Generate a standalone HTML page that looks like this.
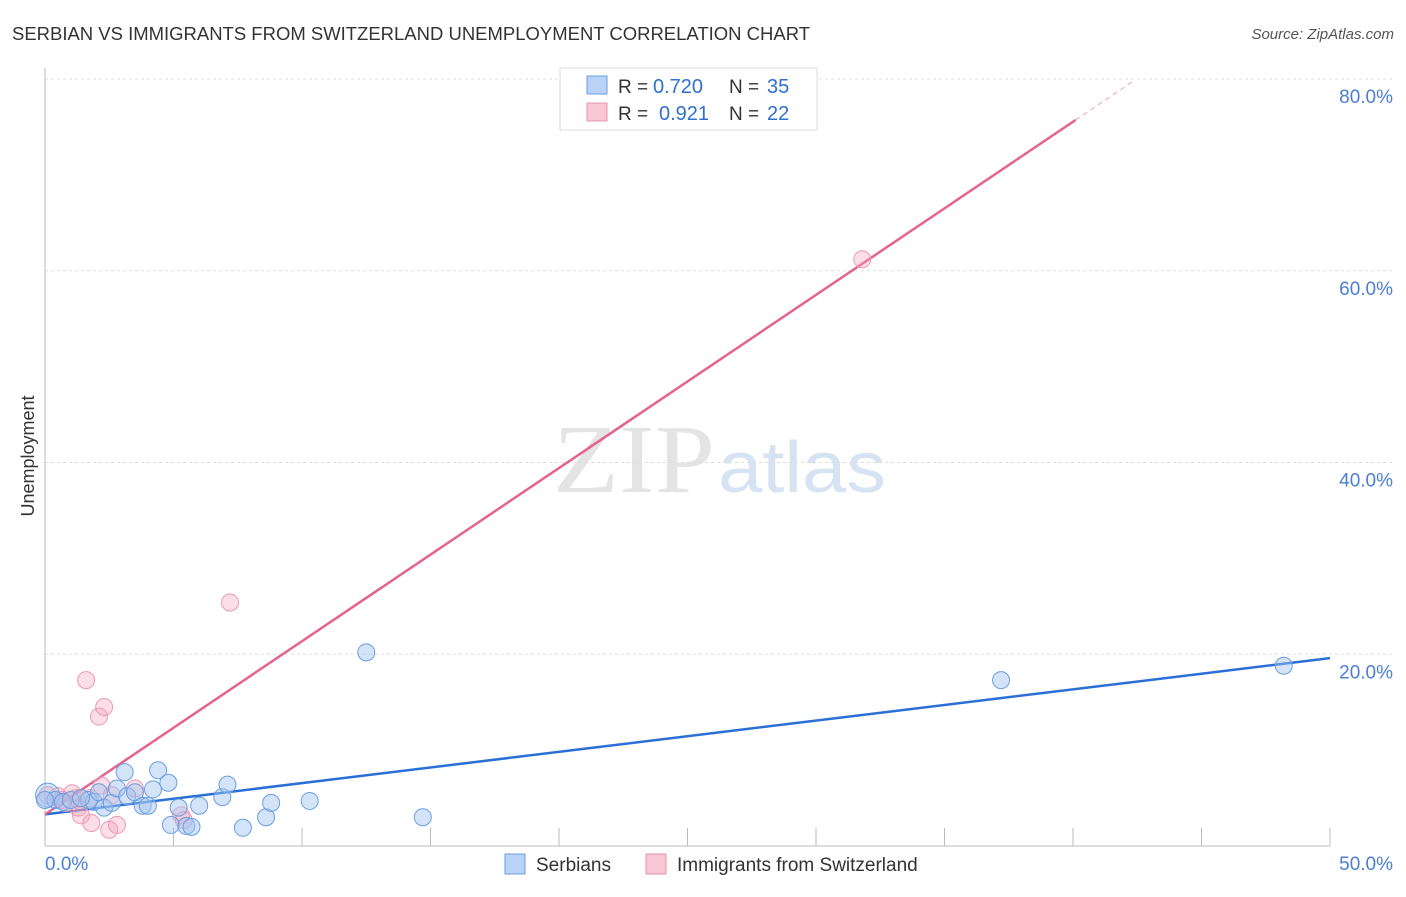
<!DOCTYPE html>
<html><head><meta charset="utf-8"><style>
body{margin:0;background:#fff;font-family:"Liberation Sans",sans-serif;}
</style></head><body>
<svg width="1406" height="892" xmlns="http://www.w3.org/2000/svg" font-family="Liberation Sans, sans-serif">
<text x="12" y="40" font-size="18" fill="#333" textLength="798" lengthAdjust="spacingAndGlyphs">SERBIAN VS IMMIGRANTS FROM SWITZERLAND UNEMPLOYMENT CORRELATION CHART</text>
<text x="1394" y="39" font-size="15" fill="#555" font-style="italic" text-anchor="end">Source: ZipAtlas.com</text>
<text x="34" y="456" font-size="18" fill="#333" text-anchor="middle" transform="rotate(-90 34 456)">Unemployment</text>
<text x="553" y="492" font-size="98" fill="#e4e4e4" font-family="Liberation Serif, serif" textLength="162" lengthAdjust="spacingAndGlyphs">ZIP</text>
<text x="718" y="492" font-size="72" fill="#d6e3f3" textLength="168" lengthAdjust="spacingAndGlyphs">atlas</text>
<g id="grid"></g><g id="axes"></g><g id="lines"></g><g id="points"></g>
<g>
<rect x="560" y="68" width="257" height="62" fill="#fff" stroke="#ddd"/>
<rect x="587" y="76" width="20" height="18" fill="#b8d3f5" stroke="#6a9ee0"/>
<text x="618" y="93" font-size="19" fill="#333">R =</text>
<text x="653" y="93" font-size="20" fill="#2f6fd0">0.720</text>
<text x="729" y="93" font-size="19" fill="#333">N =</text>
<text x="767" y="93" font-size="20" fill="#2f6fd0">35</text>
<rect x="587" y="103" width="20" height="18" fill="#f8c6d4" stroke="#e891ab"/>
<text x="618" y="120" font-size="19" fill="#333">R =</text>
<text x="659" y="120" font-size="20" fill="#2f6fd0">0.921</text>
<text x="729" y="120" font-size="19" fill="#333">N =</text>
<text x="767" y="120" font-size="20" fill="#2f6fd0">22</text>
</g>
<g>
<rect x="505" y="854" width="20" height="20" fill="#b8d3f5" stroke="#6a9ee0"/>
<text x="536" y="871" font-size="19" fill="#333">Serbians</text>
<rect x="646" y="854" width="20" height="20" fill="#f8c6d4" stroke="#e891ab"/>
<text x="677" y="871" font-size="19" fill="#333">Immigrants from Switzerland</text>
</g>
</svg>
<script>
const yTicks=[20,40,60,80];
const yTickLabels=["20.0%","40.0%","60.0%","80.0%"];
const xTicks=[0,5,10,15,20,25,30,35,40,45,50];
const serbX=[0.1,0.4,0.7,1.0,1.7,1.9,2.1,2.3,2.6,2.8,3.1,3.2,3.5,3.8,4.0,4.2,4.4,4.8,4.9,5.2,5.5,5.7,6.0,6.9,7.1,7.7,8.6,8.8,10.3,12.5,14.7,37.2,48.2,0,1.4];
const serbY=[5.3,4.8,4.6,4.8,4.8,4.6,5.6,4.0,4.5,6.0,7.7,5.2,5.6,4.2,4.2,5.9,7.9,6.6,2.2,4.0,2.1,2.0,4.2,5.1,6.4,1.9,3.0,4.5,4.7,20.2,3.0,17.3,18.8,4.8,5.0];
const swissX=[0.1,0.5,0.8,1.05,1.3,1.4,1.6,1.8,2.1,2.3,2.2,2.5,2.8,2.6,3.5,5.3,7.2,31.8,0.65,1.75,1.2,5.4];
const swissY=[5.3,5.2,4.5,5.5,4.0,3.2,17.3,2.4,13.5,14.5,6.3,1.7,2.2,5.3,6.0,3.2,25.4,61.2,4.8,5.0,5.0,2.7];
const serbLine=[3.3,19.6];
const swissIntercept=3.3, swissSlope=1.806, swissSolidEnd=40.1, swissDashEnd=42.4;
const NS="http://www.w3.org/2000/svg";
const sx=v=>45+v/50*1285, sy=v=>846-v/80*767;
function mk(tag,attrs,parent){const e=document.createElementNS(NS,tag);for(const k in attrs)e.setAttribute(k,attrs[k]);document.getElementById(parent).appendChild(e);return e;}
yTicks.forEach((t,i)=>{
 const g=mk('line',{x1:45,x2:1394,y1:sy(t),y2:sy(t),stroke:'#ddd','stroke-dasharray':'3,3'},'grid');
 
 
 const l=mk('text',{x:1393,y:sy(t)+24,'font-size':19,fill:'#4a7fd4','text-anchor':'end'},'axes');
 l.textContent=yTickLabels[i];
 
 
});
const ax=mk('line',{x1:45,x2:45,y1:68,y2:846,stroke:'#bbb'},'axes');


const bx=mk('line',{x1:45,x2:1330,y1:846,y2:846,stroke:'#bbb'},'axes');


xTicks.forEach(t=>{
 const k=mk('line',{x1:sx(t),x2:sx(t),y1:828,y2:846,stroke:'#bbb'},'axes');
 
 
});
const x0=mk('text',{x:45,y:870,'font-size':19,fill:'#4a7fd4'},'axes');x0.textContent='0.0%';


const x1=mk('text',{x:1393,y:870,'font-size':19,fill:'#4a7fd4','text-anchor':'end'},'axes');x1.textContent='50.0%';


swissX.forEach((v,i)=>{
 const c=mk('circle',{cx:sx(v),cy:sy(swissY[i]),r:8.5,fill:'rgba(244,160,185,0.35)',stroke:'#eb9ab3','stroke-width':1},'points');
 
 
});
serbX.forEach((v,i)=>{
 const c=mk('circle',{cx:sx(v),cy:sy(serbY[i]),r:i==0?12:8.5,fill:'rgba(160,195,240,0.45)',stroke:'#6a9ee0','stroke-width':1},'points');
 
 
});
const bl=mk('line',{x1:sx(0),y1:sy(serbLine[0]),x2:sx(50),y2:sy(serbLine[1]),stroke:'#2a6fd6','stroke-width':2.5},'lines');


const pl=mk('line',{x1:sx(0),y1:sy(swissIntercept),x2:sx(swissSolidEnd),y2:sy(swissIntercept+swissSlope*swissSolidEnd),stroke:'#e4638f','stroke-width':2.5},'lines');


const pd=mk('line',{x1:sx(swissSolidEnd),y1:sy(swissIntercept+swissSlope*swissSolidEnd),x2:sx(swissDashEnd),y2:sy(swissIntercept+swissSlope*swissDashEnd),stroke:'#f0b0c4','stroke-width':1.2,'stroke-dasharray':'5,4'},'lines');


</script>
</body></html>
